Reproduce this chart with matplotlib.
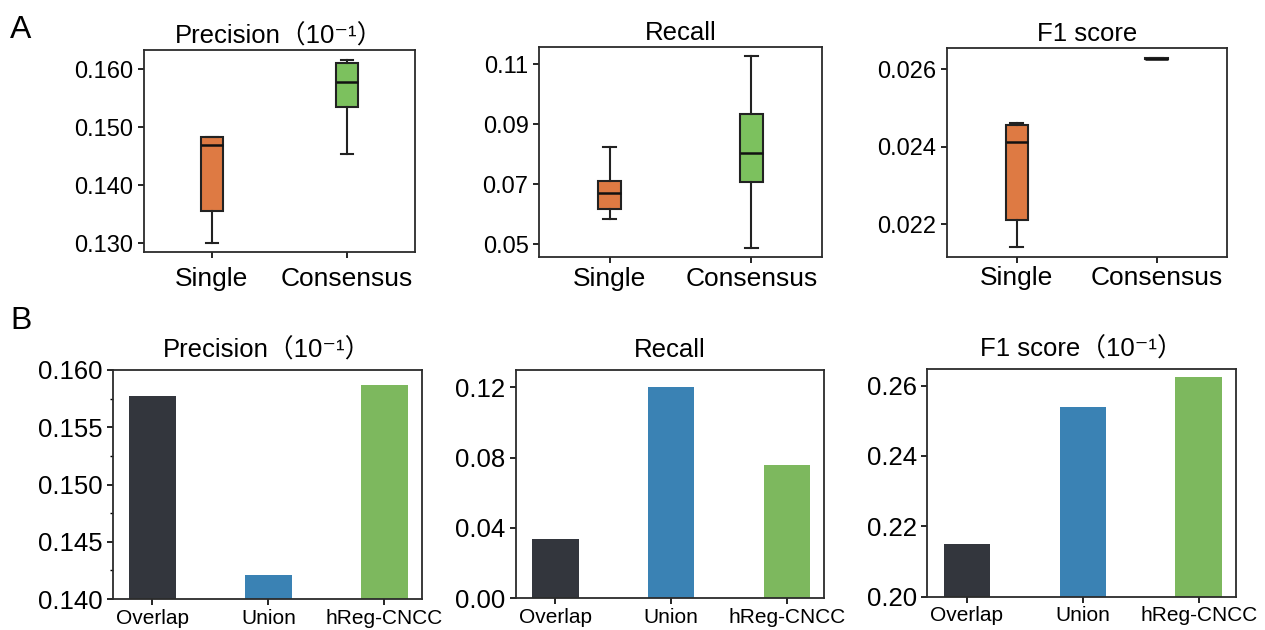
import matplotlib
matplotlib.use('Agg')
import matplotlib.pyplot as plt
from matplotlib.ticker import MultipleLocator

plt.rcParams['font.family'] = ['Liberation Sans', 'DejaVu Sans', 'Noto Sans CJK SC']
plt.rcParams['axes.linewidth'] = 1.3
plt.rcParams['axes.edgecolor'] = '#2b2b2b'

# ---- data: panel A (box plots, Single vs Consensus) ----
box_groups = ['Single', 'Consensus']
# each entry: (whislo, q1, med, q3, whishi)
prec_single = (0.1300, 0.1356, 0.1469, 0.1483, 0.1483)
prec_consensus = (0.1453, 0.1534, 0.1578, 0.1610, 0.1616)
recall_single = (0.0584, 0.0618, 0.0673, 0.0713, 0.0825)
recall_consensus = (0.0488, 0.0709, 0.0804, 0.0934, 0.1127)
f1_single = (0.02142, 0.0221, 0.02411, 0.02455, 0.0246)
f1_consensus = (0.02626, 0.02626, 0.02627, 0.02628, 0.02628)

# ---- data: panel B (bars) ----
bar_methods = ['Overlap', 'Union', 'hReg-CNCC']
prec_bars = [0.15773, 0.14210, 0.15866]
recall_bars = [0.0336, 0.1200, 0.0758]
f1_bars = [0.2150, 0.2540, 0.2625]

box_colors = ['#DE7A43', '#7CC15E']
bar_colors = ['#33363D', '#3A82B4', '#7DB85E']

fig = plt.figure(figsize=(12.65, 6.3), dpi=100)

title_prec = 'Precision\uff0810\u207b\u00b9\uff09'
title_f1b = 'F1 score\uff0810\u207b\u00b9\uff09'


def box_panel(rect, single, consensus, title, ylim, yticks, fmt, xpad=7):
    ax = fig.add_axes(rect)
    stats = []
    for lab, s in zip(box_groups, [single, consensus]):
        stats.append(dict(label=lab, whislo=s[0], q1=s[1], med=s[2], q3=s[3], whishi=s[4]))
    bp = ax.bxp(stats, positions=[1, 2], widths=0.16, patch_artist=True,
                showfliers=False, capwidths=0.09,
                boxprops=dict(linewidth=1.5, edgecolor='#222222'),
                whiskerprops=dict(linewidth=1.5, color='#222222'),
                capprops=dict(linewidth=1.5, color='#222222'),
                medianprops=dict(linewidth=1.8, color='#111111'))
    for patch, c in zip(bp['boxes'], box_colors):
        patch.set_facecolor(c)
    ax.set_xlim(0.5, 2.5)
    ax.set_ylim(*ylim)
    ax.set_yticks(yticks)
    ax.set_yticklabels([fmt.format(v) for v in yticks])
    ax.set_title(title, fontsize=18.5, pad=5)
    ax.tick_params(axis='y', labelsize=17, length=4, width=1.2)
    ax.tick_params(axis='x', labelsize=19, length=4, width=1.2, pad=xpad)
    return ax


def bar_panel(rect, vals, title, ylim, yticks, fmt, minor=None):
    ax = fig.add_axes(rect)
    ax.bar(range(len(bar_methods)), vals, width=0.4, color=bar_colors)
    ax.set_xticks(range(len(bar_methods)))
    ax.set_xticklabels(bar_methods)
    ax.set_xlim(-0.34, 2.32)
    ax.set_ylim(*ylim)
    ax.set_yticks(yticks)
    ax.set_yticklabels([fmt.format(v) for v in yticks])
    if minor:
        ax.yaxis.set_minor_locator(MultipleLocator(minor))
        ax.tick_params(axis='y', which='minor', length=2.5, width=1)
    ax.set_title(title, fontsize=18.5, pad=9)
    ax.tick_params(axis='y', labelsize=18.5, length=4, width=1.2)
    ax.tick_params(axis='x', labelsize=15, length=4, width=1.2, pad=3)
    return ax


box_panel([0.1138, 0.600, 0.2142, 0.3206], prec_single, prec_consensus, title_prec,
          (0.1285, 0.1633), [0.130, 0.140, 0.150, 0.160], '{:.3f}', xpad=7)
box_panel([0.4261, 0.592, 0.2237, 0.3333], recall_single, recall_consensus, 'Recall',
          (0.0458, 0.1158), [0.05, 0.07, 0.09, 0.11], '{:.2f}', xpad=3)
box_panel([0.7484, 0.5925, 0.2213, 0.3317], f1_single, f1_consensus, 'F1 score',
          (0.02116, 0.02655), [0.022, 0.024, 0.026], '{:.3f}', xpad=3)

bar_panel([0.0893, 0.0492, 0.2440, 0.3635], prec_bars, title_prec,
          (0.140, 0.160), [0.140, 0.145, 0.150, 0.155, 0.160], '{:.3f}', minor=0.0025)
bar_panel([0.4079, 0.0503, 0.2437, 0.3624], recall_bars, 'Recall',
          (0.0, 0.1298), [0.00, 0.04, 0.08, 0.12], '{:.2f}')
bar_panel([0.7331, 0.0529, 0.2438, 0.3614], f1_bars, title_f1b,
          (0.20, 0.2647), [0.20, 0.22, 0.24, 0.26], '{:.2f}')

fig.text(0.008, 0.94, 'A', fontsize=23)
fig.text(0.008, 0.477, 'B', fontsize=23)

fig.savefig('out.png', dpi=100)
